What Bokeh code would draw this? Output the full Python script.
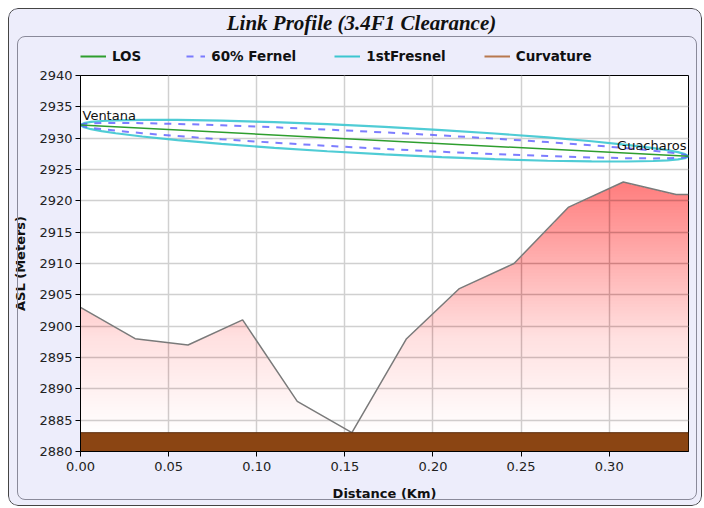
import numpy as np
from bokeh.plotting import figure
from bokeh.layouts import column
from bokeh.models import (Range1d, Legend, LegendItem, Label, InlineStyleSheet,
                          NumeralTickFormatter, FixedTicker)
from bokeh.embed import file_html
from bokeh.resources import INLINE

# ---------------- data ----------------
TITLE = "Link Profile (3.4F1 Clearance)"
X_LABEL = "Distance (Km)"
Y_LABEL = "ASL (Meters)"

dist_km = [0.0, 0.031, 0.061, 0.092, 0.123, 0.154, 0.185, 0.215, 0.246, 0.277, 0.308, 0.338, 0.345]
elev_m = [2903, 2898, 2897, 2901, 2888, 2883, 2898, 2906, 2910, 2919, 2923, 2921, 2921]

site_names = ["Ventana", "Guacharos"]
los_km = [0.0, 0.345]
los_m = [2932.1, 2927.1]

fz_km = [0.0, 0.002, 0.006, 0.012, 0.02, 0.035, 0.055, 0.08, 0.11, 0.14, 0.1725,
         0.205, 0.235, 0.265, 0.29, 0.31, 0.325, 0.333, 0.339, 0.343, 0.345]
f1_half_m = [0, 0.33, 0.58, 0.81, 1.03, 1.33, 1.61, 1.86, 2.05, 2.16, 2.2,
             2.16, 2.05, 1.86, 1.61, 1.33, 1.03, 0.81, 0.58, 0.33, 0]
f60_half_m = [0, 0.2, 0.35, 0.49, 0.62, 0.8, 0.97, 1.12, 1.23, 1.3, 1.32,
              1.3, 1.23, 1.12, 0.97, 0.8, 0.62, 0.49, 0.35, 0.2, 0]

curv_km = [0.0, 0.345]
curv_m = [2883, 2883]

x_ticks = [0.0, 0.05, 0.10, 0.15, 0.20, 0.25, 0.30]
y_ticks = [2880, 2885, 2890, 2895, 2900, 2905, 2910, 2915, 2920, 2925, 2930, 2935, 2940]

legend_names = ["LOS", "60% Fernel", "1stFresnel", "Curvature"]

# ---------------- style ----------------
BG = "#EDEDFB"
FONT = "DejaVu Sans"
W = 694
HEAD_H = 59
BORDER_L, BORDER_R = 72, 14
FRAME_W = W - BORDER_L - BORDER_R

C_LOS = "#2E9E2E"
C_F60 = "#5C5CFF"
C_F1 = "#3CC6D0"
C_CURV_LEG = "#B8784E"

x0, x1 = x_ticks[0], los_km[-1]
y0, y1 = y_ticks[0], y_ticks[-1]

# ---------- header: title + legend (frame aligned with the plot below) ----------
h = figure(width=W, height=HEAD_H, x_range=Range1d(0, FRAME_W), y_range=Range1d(0, HEAD_H),
           x_axis_type=None, y_axis_type=None,
           min_border_left=BORDER_L, min_border_right=BORDER_R,
           min_border_top=0, min_border_bottom=0,
           output_backend="svg", toolbar_location=None)
h.grid.visible = False
h.outline_line_color = None
h.background_fill_color = BG
h.border_fill_color = BG
h.add_layout(Label(x=281, y=45, text=TITLE, text_align="center", text_baseline="middle",
                   text_font="Liberation Serif", text_font_style="bold italic",
                   text_font_size="21px", text_color="#111111"))

# legend swatches (single-point renderers draw nothing themselves)
hl_los = h.line([0], [0], line_color=C_LOS, line_width=2)
hl_f60 = h.line([0], [0], line_color=C_F60, line_width=2, line_alpha=0.8,
                line_dash="7 7", line_dash_offset=7)
hl_f1 = h.line([0], [0], line_color=C_F1, line_width=2)
hl_curv = h.line([0], [0], line_color=C_CURV_LEG, line_width=2)
legend = Legend(items=[LegendItem(label=legend_names[0], renderers=[hl_los]),
                       LegendItem(label=legend_names[1], renderers=[hl_f60]),
                       LegendItem(label=legend_names[2], renderers=[hl_f1]),
                       LegendItem(label=legend_names[3], renderers=[hl_curv])],
                orientation="horizontal", location=(0, 1),
                label_text_font=FONT, label_text_font_style="bold",
                label_text_font_size="13.5px", label_text_color="#111111",
                glyph_width=26, glyph_height=20, label_height=20, label_standoff=6,
                spacing=38, padding=0, margin=0,
                background_fill_alpha=0, border_line_alpha=0)
h.add_layout(legend, "center")

# ---------- main profile plot ----------
p = figure(width=W, height=439,
           min_border_left=BORDER_L, min_border_right=BORDER_R,
           min_border_top=8, min_border_bottom=55,
           x_range=Range1d(x0, x1), y_range=Range1d(y0, y1),
           output_backend="svg", toolbar_location=None)
p.border_fill_color = BG
p.background_fill_color = "white"
p.outline_line_color = "black"
p.outline_line_width = 1

p.xaxis.ticker = FixedTicker(ticks=x_ticks)
p.yaxis.ticker = FixedTicker(ticks=y_ticks)
p.xaxis.formatter = NumeralTickFormatter(format="0.00")
for ax in (p.xaxis, p.yaxis):
    ax.axis_label_text_font = FONT
    ax.axis_label_text_font_style = "bold"
    ax.axis_label_text_font_size = "13px"
    ax.axis_label_text_color = "#111111"
    ax.major_label_text_font = FONT
    ax.major_label_text_font_size = "13px"
    ax.major_label_text_color = "#222222"
    ax.major_tick_out = 5
    ax.major_tick_in = 0
    ax.minor_tick_line_color = None
    ax.axis_line_color = "black"
    ax.major_tick_line_color = "black"
p.xaxis.axis_label = X_LABEL
p.yaxis.axis_label = Y_LABEL
p.xaxis.major_label_standoff = 5
p.yaxis.major_label_standoff = 3
p.xaxis.axis_label_standoff = 12
p.yaxis.axis_label_standoff = 8

p.grid.grid_line_color = "#D0D0D0"
p.grid.grid_line_width = 1.5
p.xgrid.ticker = FixedTicker(ticks=x_ticks)
p.ygrid.ticker = FixedTicker(ticks=y_ticks)

# terrain gradient fill (stacked translucent layers)
xs = np.linspace(x0, x1, 800)
terr = np.interp(xs, dist_km, elev_m)
base = min(elev_m)
top = 2925.0
n = 84
levels = np.linspace(base, top, n + 1)[:-1]
A = 0.42
prev = 0.0
for k, L in enumerate(levels, start=1):
    o = A * k / n
    a = 1 - (1 - o) / (1 - prev)
    prev = o
    p.varea(x=xs, y1=np.full_like(xs, L), y2=np.maximum(terr, L),
            fill_color="#FF0000", fill_alpha=a)
p.line(dist_km, elev_m, line_color="#7A7A7A", line_width=1.5)

# curvature band
p.varea(x=curv_km, y1=[y0] * len(curv_km), y2=curv_m, fill_color="#8B4513")
p.line(curv_km, curv_m, line_color="#5A2C0C", line_width=1)

# Fresnel zones and LOS
los_at = np.interp(fz_km, los_km, los_m)
f1u = los_at + np.array(f1_half_m)
f1l = los_at - np.array(f1_half_m)
f6u = los_at + np.array(f60_half_m)
f6l = los_at - np.array(f60_half_m)

p.line(fz_km, f1u, line_color=C_F1, line_width=2.2, line_alpha=0.9)
p.line(fz_km, f1l, line_color=C_F1, line_width=2.2, line_alpha=0.9)
p.line(fz_km, f6u, line_color=C_F60, line_width=2, line_alpha=0.8, line_dash="7 7")
p.line(fz_km, f6l, line_color=C_F60, line_width=2, line_alpha=0.8, line_dash="7 7")
p.line(los_km, los_m, line_color=C_LOS, line_width=1.5)

p.add_layout(Label(x=los_km[0], y=los_m[0], text=site_names[0], x_offset=2, y_offset=2,
                   text_baseline="bottom", text_font=FONT, text_font_size="13px",
                   text_color="#111111"))
p.add_layout(Label(x=los_km[-1], y=los_m[-1], text=site_names[1], x_offset=-2, y_offset=3,
                   text_align="right", text_baseline="bottom", text_font=FONT,
                   text_font_size="13px", text_color="#111111"))

root = column(h, p, spacing=0)
root.styles = {"margin-left": "8px", "margin-top": "8px", "position": "relative",
               "border-radius": "10px", "overflow": "hidden", "background-color": BG}
root.stylesheets = [InlineStyleSheet(css="""
:host::before {
  content: ""; position: absolute; left: 0px; top: 0px; width: 694px; height: 498px;
  box-sizing: border-box; border: 1.5px solid #444444; border-radius: 10px;
  pointer-events: none; z-index: 20;
}
:host::after {
  content: ""; position: absolute; left: 9px; top: 28px; width: 680px; height: 464px;
  box-sizing: border-box; border: 1.5px solid #8A8A9A; border-radius: 8px;
  pointer-events: none; z-index: 20;
}
""")]

open("out.html", "w").write(file_html(root, INLINE))
